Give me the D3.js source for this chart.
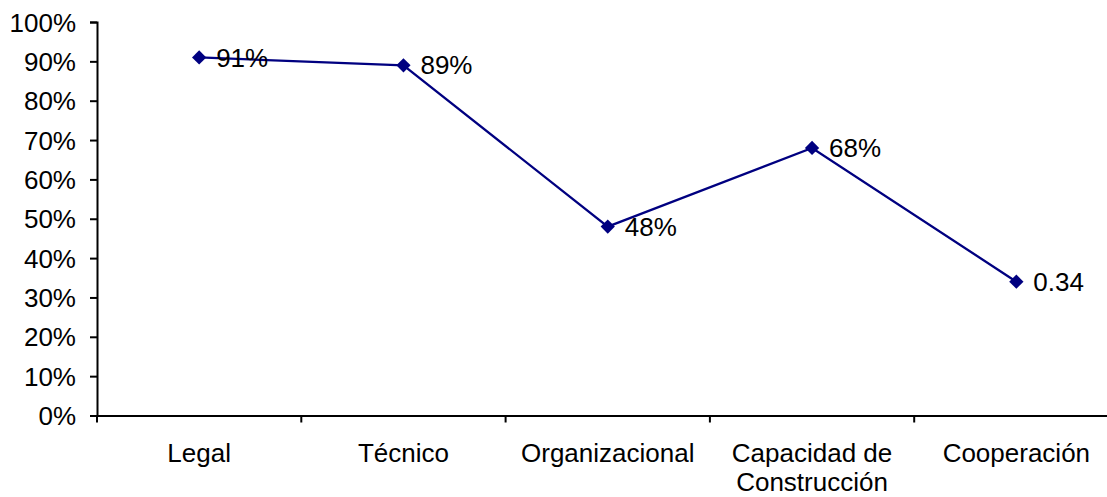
<!DOCTYPE html>
<html><head><meta charset="utf-8">
<script src="https://cdn.jsdelivr.net/npm/d3@7"></script>
<style>body{margin:0;background:#fff}svg{display:block}</style>
</head><body>
<svg id="c" width="1107" height="497"></svg>
<script>
const categories = ["Legal", "Técnico", "Organizacional", "Capacidad de Construcción", "Cooperación"];
const values = [0.91, 0.89, 0.48, 0.68, 0.34];
const valueLabels = ["91%", "89%", "48%", "68%", "0.34"];
const yTicks = [0, 0.1, 0.2, 0.3, 0.4, 0.5, 0.6, 0.7, 0.8, 0.9, 1.0];

(function(){
const svg = d3.select("#c");
const mLeft = 97, mTop = 22, mBottom = 415.5, mRight = mLeft + 5 * 204.3;
const x = d3.scaleBand().domain(categories).range([mLeft, mRight]);
const y = d3.scaleLinear().domain([0, 1]).range([mBottom, mTop]);
const font = "'Liberation Sans', Arial, sans-serif";
const fs = 26;

// Y axis
const ya = svg.append("g").attr("transform", `translate(${mLeft},0)`)
  .call(d3.axisLeft(y).tickValues(yTicks).tickFormat(d3.format(".0%")).tickSize(7).tickPadding(6));
ya.select(".domain").attr("stroke", "#000").attr("stroke-width", 2);
ya.selectAll(".tick line").attr("stroke", "#000").attr("stroke-width", 2);
ya.selectAll(".tick text").attr("font-family", font).attr("font-size", fs).attr("fill", "#000")
  .attr("x", -21).attr("dy", "0.35em");

// X axis
const xa = svg.append("g").attr("transform", `translate(0,${mBottom})`)
  .call(d3.axisBottom(x).tickSize(0).tickFormat(""));
xa.select(".domain").attr("stroke", "#000").attr("stroke-width", 2);
const bounds = d3.range(categories.length + 1).map(i => mLeft + i * x.step());
svg.append("g").selectAll("line").data(bounds).join("line")
  .attr("x1", d => d).attr("x2", d => d).attr("y1", mBottom).attr("y2", mBottom + 7)
  .attr("stroke", "#000").attr("stroke-width", 2);

// X labels (wrapped)
const xl = svg.append("g").selectAll("text").data(categories).join("text")
  .attr("font-family", font).attr("font-size", fs).attr("fill", "#000")
  .attr("text-anchor", "middle")
  .attr("x", d => x(d) + x.bandwidth() / 2).attr("y", 462);
xl.each(function(d){
  const t = d3.select(this);
  const lines = d === "Capacidad de Construcción" ? ["Capacidad de", "Construcción"] : [d];
  lines.forEach((l, i) => t.append("tspan").attr("x", x(d) + x.bandwidth() / 2).attr("dy", i ? 29 : 0).text(l));
});

// Line
const line = d3.line().x((d, i) => x(categories[i]) + x.bandwidth() / 2).y(d => y(d));
svg.append("path").datum(values).attr("d", line).attr("fill", "none")
  .attr("stroke", "#000080").attr("stroke-width", 2.3);

// Markers
svg.append("g").selectAll("path").data(values).join("path")
  .attr("d", d3.symbol(d3.symbolDiamond2, 130)())
  .attr("transform", (d, i) => `translate(${x(categories[i]) + x.bandwidth() / 2},${y(d)})`)
  .attr("fill", "#000080");

// Value labels
svg.append("g").selectAll("text").data(values).join("text")
  .attr("font-family", font).attr("font-size", fs).attr("fill", "#000")
  .attr("x", (d, i) => x(categories[i]) + x.bandwidth() / 2 + 17)
  .attr("y", d => y(d)).attr("dy", "0.35em")
  .text((d, i) => valueLabels[i]);
})();
</script>
</body></html>
